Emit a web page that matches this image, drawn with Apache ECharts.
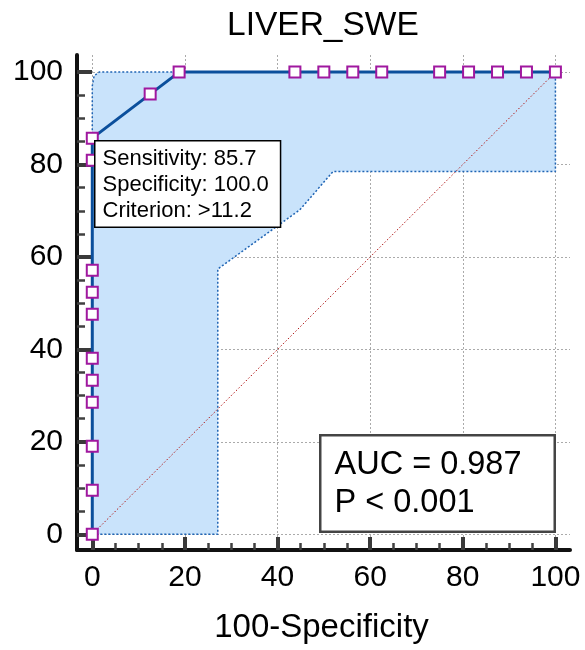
<!DOCTYPE html>
<html>
<head>
<meta charset="utf-8">
<script src="https://cdn.jsdelivr.net/npm/echarts@6/dist/echarts.min.js"></script>
<style>
  html, body { margin: 0; padding: 0; background: #fff; }
  #chart { width: 585px; height: 650px; }
</style>
</head>
<body>
<div id="chart"></div>
<script>
// ROC curve points (100-Specificity, Sensitivity)
const rocX = [0, 0, 0, 0, 0, 0, 0, 0, 0, 0, 0, 12.5, 18.75, 43.75, 50, 56.25, 62.5, 75, 81.25, 87.5, 93.75, 100];
const rocY = [0, 9.52, 19.05, 28.57, 33.33, 38.1, 47.62, 52.38, 57.14, 80.95, 85.71, 95.24, 100, 100, 100, 100, 100, 100, 100, 100, 100, 100];

// confidence bounds
const upperX = [0, 0, 0.4, 1.5, 100];
const upperY = [0, 97, 99.2, 100, 100];
const lowerX = [0, 27.1, 27.1, 44.8, 52, 100, 100];
const lowerY = [0, 0, 57.4, 70.2, 78.5, 78.5, 100];

// diagonal reference
const refX = [0, 100];
const refY = [0, 100];

const tickValues = [0, 20, 40, 60, 80, 100];

const FONT = '"Liberation Sans", Arial, sans-serif';

function zip(xs, ys) {
    return xs.map((x, i) => [x, ys[i]]);
}

const myChart = echarts.init(document.getElementById('chart'));

const axisLineStyle = { color: '#111', width: 4 };

const option = {
    animation: false,
    title: {
        text: 'LIVER_SWE',
        left: 227,
        top: 9,
        padding: 0,
        textStyle: { fontFamily: FONT, fontSize: 33.5, fontWeight: 'normal', color: '#000' }
    },
    grid: { left: 77, top: 55, right: 15, bottom: 100 },
    xAxis: {
        type: 'value',
        min: -3.3,
        max: 103.15,
        splitNumber: 5,
        name: '100-Specificity',
        nameLocation: 'middle',
        nameGap: 61,
        nameTextStyle: { fontFamily: FONT, fontSize: 33, color: '#000', padding: [0, 4, 0, 0] },
        axisLine: { show: true, onZero: false, lineStyle: axisLineStyle },
        axisTick: {
            show: true, inside: true, length: 13, customValues: tickValues,
            lineStyle: { color: '#3a3a3a', width: 4 }
        },
        minorTick: {
            show: true, splitNumber: 4, length: 7,
            lineStyle: { color: '#404040', width: 2.5 }
        },
        axisLabel: {
            customValues: tickValues,
            fontFamily: FONT, fontSize: 30, color: '#000', margin: 13
        },
        splitLine: {
            show: true,
            lineStyle: { color: '#aaa', type: [2, 2], width: 1 }
        }
    },
    yAxis: {
        type: 'value',
        min: -3.4,
        max: 103.7,
        splitNumber: 5,
        axisLine: { show: true, onZero: false, lineStyle: axisLineStyle },
        axisTick: {
            show: true, inside: true, length: 15, customValues: tickValues,
            lineStyle: { color: '#3a3a3a', width: 4 }
        },
        minorTick: {
            show: true, splitNumber: 4, length: 8,
            lineStyle: { color: '#404040', width: 2.5 }
        },
        axisLabel: {
            customValues: tickValues,
            fontFamily: FONT, fontSize: 30, color: '#000', margin: 14
        },
        splitLine: {
            show: true,
            lineStyle: { color: '#aaa', type: [2, 2], width: 1 }
        }
    },
    series: [
        {
            // filled confidence band
            type: 'custom',
            clip: false,
            silent: true,
            z: 1,
            data: [[0, 0]],
            renderItem: function (params, api) {
                const pts = zip(upperX, upperY).map(p => api.coord(p));
                const low = zip(lowerX, lowerY).reverse().map(p => api.coord(p));
                return {
                    type: 'polygon',
                    shape: { points: pts.concat(low) },
                    style: { fill: '#c9e3fb', stroke: 'none' }
                };
            }
        },
        {
            type: 'line', data: zip(upperX, upperY), showSymbol: false, clip: false, z: 2,
            lineStyle: { color: '#1f64b4', width: 1.5, type: [2, 2] }
        },
        {
            type: 'line', data: zip(lowerX, lowerY), showSymbol: false, clip: false, z: 2,
            lineStyle: { color: '#1f64b4', width: 1.5, type: [2, 2] }
        },
        {
            type: 'line', data: zip(refX, refY), showSymbol: false, clip: false, z: 3,
            lineStyle: { color: '#b01818', width: 1, type: [1.5, 2] }
        },
        {
            type: 'line',
            data: zip(rocX, rocY),
            clip: false,
            z: 4,
            symbol: 'rect',
            symbolSize: 11,
            lineStyle: { color: '#0b4f9c', width: 3 },
            itemStyle: { color: '#fff', borderColor: '#a0189f', borderWidth: 2 }
        }
    ],
    graphic: [
        {
            type: 'text',
            left: 94,
            top: 140,
            z: 100,
            style: {
                text: 'Sensitivity: 85.7\nSpecificity: 100.0\nCriterion: >11.2',
                font: '22px ' + FONT,
                lineHeight: 26,
                fill: '#000',
                backgroundColor: '#fff',
                borderColor: '#000',
                borderWidth: 1.5,
                padding: [4, 11, 3, 7]
            }
        },
        {
            type: 'text',
            left: 319,
            top: 434,
            z: 100,
            style: {
                text: 'AUC = 0.987\nP < 0.001',
                font: '32.5px ' + FONT,
                lineHeight: 38,
                fill: '#000',
                backgroundColor: '#fff',
                borderColor: '#444',
                borderWidth: 2.5,
                padding: [10, 32, 8, 13]
            }
        }
    ]
};

myChart.setOption(option);
window.addEventListener('resize', () => {
    myChart.resize();
});
</script>
</body>
</html>
